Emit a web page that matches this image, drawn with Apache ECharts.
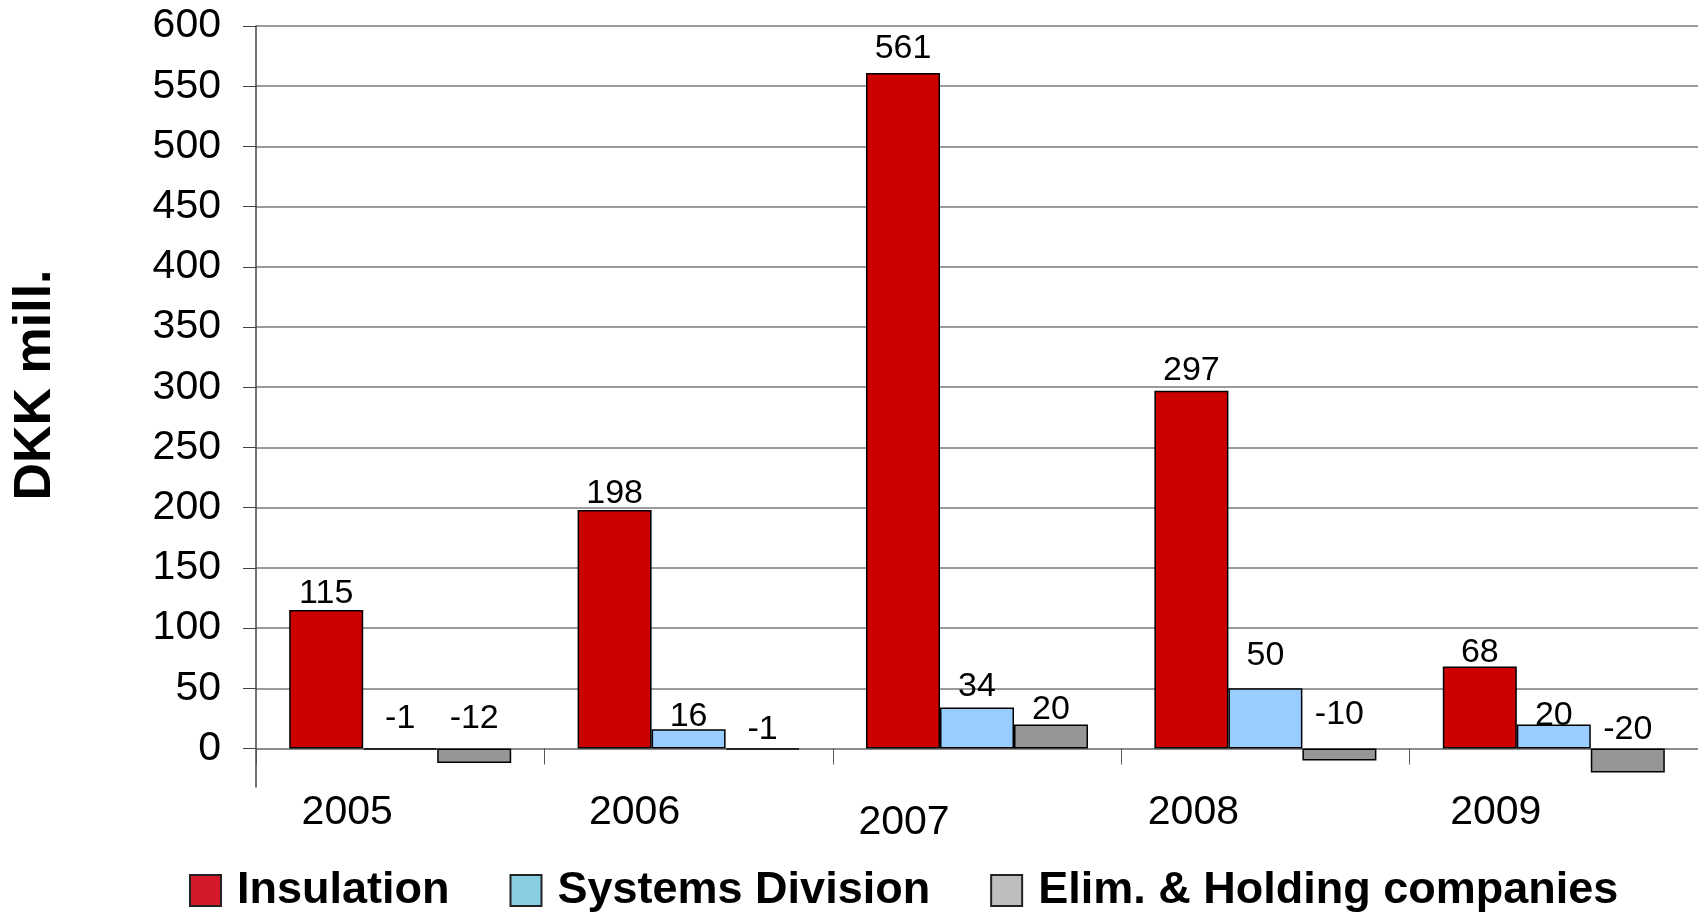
<!DOCTYPE html>
<html>
<head>
<meta charset="utf-8">
<script src="https://cdn.jsdelivr.net/npm/echarts@6/dist/echarts.min.js"></script>
<style>
  html, body { margin: 0; padding: 0; background: #fff; }
  #chart { width: 1698px; height: 912px; }
</style>
</head>
<body>
<div id="chart"></div>
<script>
// data
var years = ['2005', '2006', '2007', '2008', '2009'];
var insulation = [115, 198, 561, 297, 68];
var systemsDivision = [-1, 16, 34, 50, 20];
var elimHolding = [-12, -1, 20, -10, -20];
var yTicks = [0, 50, 100, 150, 200, 250, 300, 350, 400, 450, 500, 550, 600];

// the original places its labels a little unevenly; these are pixel nudges only
var yearLabelShift = [[-53, 0], [-54, 0], [-73, 5], [-72, 0], [-58, 0]];
var insulationLabelDy = [8, 8, 0, 4, 10];
var systemsLabelDy = [-6, 11, 3, -9, 15];
var elimLabelDy = [-6, 5, 9, -10, 5];

var font = 'Liberation Sans, Arial, sans-serif';

var dom = document.getElementById('chart');
var myChart = echarts.init(dom, null, { renderer: 'canvas' });

function barSeries(name, values, dys, fill) {
  return {
    name: name,
    type: 'bar',
    data: values.map(function (v, i) {
      return { value: v, label: { offset: [0, dys[i]] } };
    }),
    barWidth: 74,
    barGap: '0%',
    itemStyle: { color: fill, borderColor: '#000', borderWidth: 1.5 },
    label: {
      show: true,
      position: 'top',
      distance: 7,
      color: '#000',
      fontFamily: font,
      fontSize: 34
    }
  };
}

var yearData = years.map(function (y, i) {
  var dx = yearLabelShift[i][0], dy = yearLabelShift[i][1];
  return { value: y, textStyle: { padding: [dy * 2, -dx * 2, 0, 0] } };
});

var option = {
  animation: false,
  backgroundColor: '#fff',
  grid: { left: 256, right: 0, top: 26, bottom: 125 },
  legend: {
    left: 189,
    top: 868,
    padding: 0,
    itemGap: 60,
    itemWidth: 31,
    itemHeight: 31,
    icon: 'rect',
    textStyle: {
      fontFamily: font,
      fontSize: 45,
      fontWeight: 'bold',
      color: '#000',
      padding: [0, 0, 0, 11]
    },
    data: [
      { name: 'Insulation', itemStyle: { color: '#D41A2A', borderColor: '#222', borderWidth: 2 } },
      { name: 'Systems Division', itemStyle: { color: '#87CEE3', borderColor: '#222', borderWidth: 2 } },
      { name: 'Elim. & Holding companies', itemStyle: { color: '#BEBEBE', borderColor: '#222', borderWidth: 2 } }
    ]
  },
  xAxis: {
    type: 'category',
    data: yearData,
    axisLine: { onZero: true, lineStyle: { color: '#888', width: 1.5 } },
    axisTick: { show: true, length: 16, lineStyle: { color: '#555', width: 1 } },
    axisLabel: {
      color: '#000',
      fontFamily: font,
      fontSize: 41,
      margin: 5
    },
    splitLine: { show: false }
  },
  yAxis: {
    type: 'value',
    min: -32,
    max: 600,
    axisLine: { show: true, lineStyle: { color: '#444', width: 1.5 } },
    axisTick: { show: true, length: 13, customValues: yTicks, lineStyle: { color: '#444', width: 1 } },
    axisLabel: {
      customValues: yTicks,
      color: '#000',
      fontFamily: font,
      fontSize: 41,
      margin: 35
    },
    splitLine: { show: true, lineStyle: { color: '#7a7a7a', width: 1.5 } }
  },
  graphic: [
    {
      type: 'text',
      x: 36,
      y: 385,
      rotation: Math.PI / 2,
      style: {
        text: 'DKK mill.',
        fill: '#000',
        font: 'bold 52px ' + font,
        align: 'center',
        verticalAlign: 'middle'
      }
    }
  ],
  series: [
    barSeries('Insulation', insulation, insulationLabelDy, '#CC0000'),
    barSeries('Systems Division', systemsDivision, systemsLabelDy, '#99CCFF'),
    barSeries('Elim. & Holding companies', elimHolding, elimLabelDy, '#969696')
  ]
};

myChart.setOption(option);
</script>
</body>
</html>
